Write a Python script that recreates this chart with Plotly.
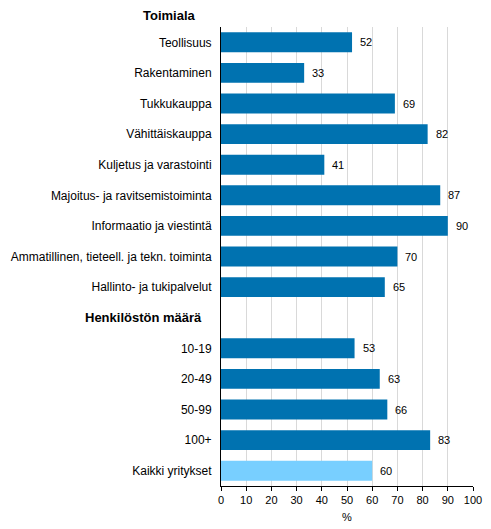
import plotly.graph_objects as go

categories = ["Teollisuus", "Rakentaminen", "Tukkukauppa", "Vähittäiskauppa",
              "Kuljetus ja varastointi", "Majoitus- ja ravitsemistoiminta",
              "Informaatio ja viestintä", "Ammatillinen, tieteell. ja tekn. toiminta",
              "Hallinto- ja tukipalvelut",
              "10-19", "20-49", "50-99", "100+", "Kaikki yritykset"]
values = [52, 33, 69, 82, 41, 87, 90, 70, 65, 53, 63, 66, 83, 60]
header_top = "Toimiala"
header_mid = "Henkilöstön määrä"
x_ticks = list(range(0, 101, 10))

DARK = "#0072B0"
LIGHT = "#78CFFF"
FONT = "Liberation Sans"

# row positions: 9 industry rows, gap row for header, 5 size rows
ypos = list(range(9)) + list(range(10, 15))
colors = [DARK] * 13 + [LIGHT]

fig = go.Figure()
fig.add_trace(go.Bar(
    x=values, y=ypos, orientation="h",
    marker=dict(color=colors, line=dict(width=0)),
    width=0.65,
    hoverinfo="skip",
))
for v, p in zip(values, ypos):
    fig.add_annotation(x=v, y=p, text=str(v), showarrow=False,
                       xanchor="left", yanchor="middle", xshift=6,
                       font=dict(family=FONT, size=11, color="black"))

fig.update_layout(
    width=491, height=529,
    margin=dict(l=221, r=18, t=27, b=43),
    plot_bgcolor="white", paper_bgcolor="white",
    showlegend=False,
    font=dict(family=FONT, size=11, color="black"),
)
fig.update_xaxes(
    range=[0, 100], tickvals=x_ticks, ticks="outside", ticklen=4,
    tickcolor="black", showline=True, linecolor="black", linewidth=1,
    showgrid=True, gridcolor="#D9D9D9", gridwidth=1, zeroline=False,
    title=dict(text="%", font=dict(size=11), standoff=8),
    tickfont=dict(size=11), automargin=False,
)
fig.update_yaxes(
    range=[14.5, -0.5], tickvals=ypos, ticktext=categories,
    ticks="", showline=True, linecolor="black", linewidth=1,
    showgrid=False, zeroline=False, tickfont=dict(size=12),
    ticklabelstandoff=6, automargin=False,
)
fig.add_annotation(text="<b>" + header_top + "</b>", xref="paper", yref="paper",
                   x=-0.09, y=1.0, xanchor="right", yanchor="bottom", yshift=2,
                   showarrow=False, font=dict(size=13, family=FONT))
fig.add_annotation(text="<b>" + header_mid + "</b>", xref="paper", yref="y",
                   x=0, y=9, xanchor="right", yanchor="middle", xshift=-17,
                   showarrow=False, font=dict(size=13, family=FONT))

fig.write_html("out.html", config={"displayModeBar": False},
               post_script="document.body.style.margin='0';document.body.style.overflow='hidden';")
